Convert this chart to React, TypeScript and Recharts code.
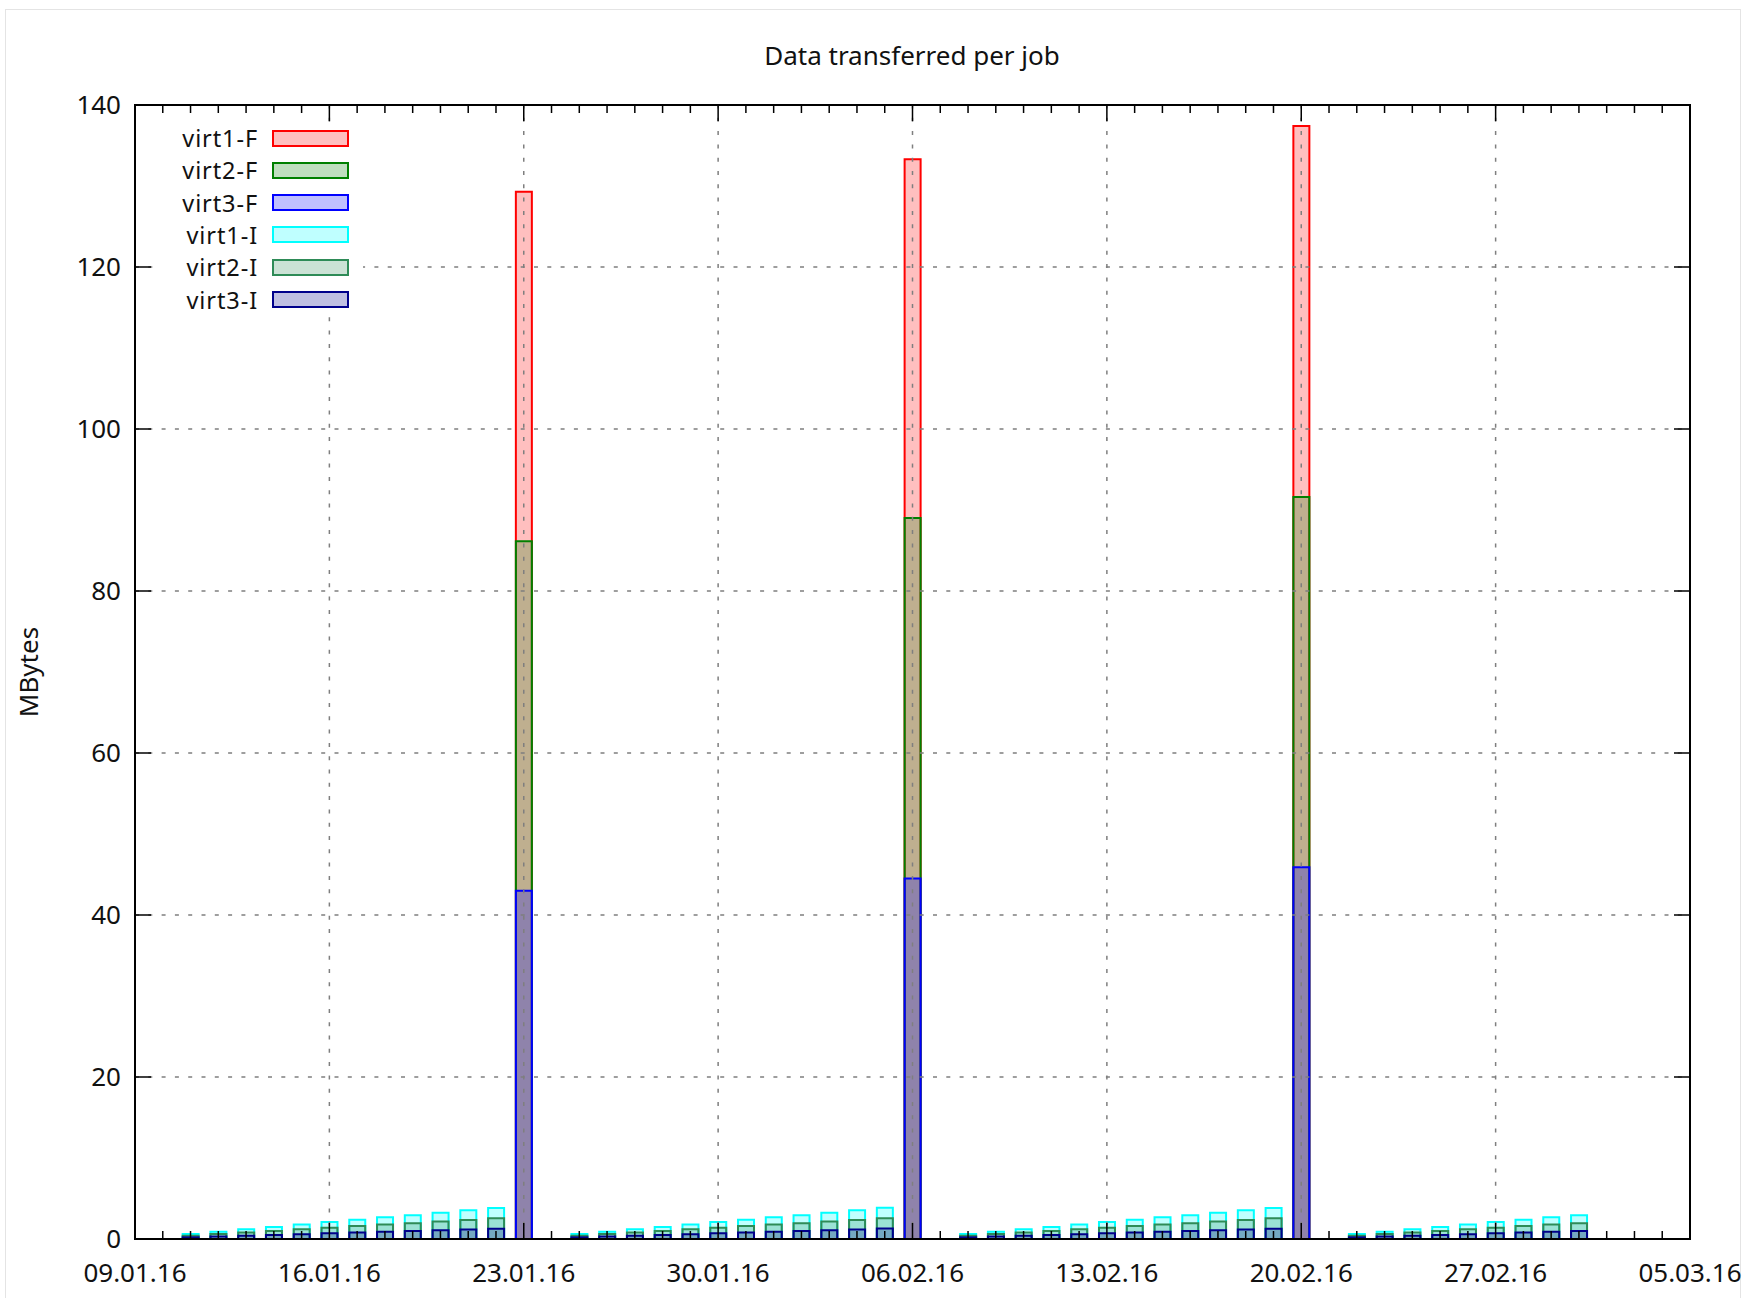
import React from "react";
import { BarChart, Bar, XAxis, YAxis, ReferenceLine } from "recharts";

const FONT = '"Noto Sans", "Open Sans", sans-serif';
const TEXT = "#111";
const GRID = "#7f7f7f";

// time range shown on the x axis and its labelled weekly ticks
const rangeStart = "09.01.16";
const rangeEnd = "05.03.16";
const weekLabels = [
  "09.01.16", "16.01.16", "23.01.16", "30.01.16", "06.02.16",
  "13.02.16", "20.02.16", "27.02.16", "05.03.16",
];
const mbTicks = [0, 20, 40, 60, 80, 100, 120, 140];
const mbGrid = [20, 40, 60, 80, 100, 120];

// one entry per backup job
const jobDates = [
  "11.01.16", "12.01.16", "13.01.16", "14.01.16", "15.01.16", "16.01.16",
  "17.01.16", "18.01.16", "19.01.16", "20.01.16", "21.01.16", "22.01.16",
  "23.01.16",
  "25.01.16", "26.01.16", "27.01.16", "28.01.16", "29.01.16", "30.01.16",
  "31.01.16", "01.02.16", "02.02.16", "03.02.16", "04.02.16", "05.02.16",
  "06.02.16",
  "08.02.16", "09.02.16", "10.02.16", "11.02.16", "12.02.16", "13.02.16",
  "14.02.16", "15.02.16", "16.02.16", "17.02.16", "18.02.16", "19.02.16",
  "20.02.16",
  "22.02.16", "23.02.16", "24.02.16", "25.02.16", "26.02.16", "27.02.16",
  "28.02.16", "29.02.16", "01.03.16",
];

// full backups (MB)
const virt1F = [
  0, 0, 0, 0, 0, 0, 0, 0, 0, 0, 0, 0, 43.15,
  0, 0, 0, 0, 0, 0, 0, 0, 0, 0, 0, 0, 44.3,
  0, 0, 0, 0, 0, 0, 0, 0, 0, 0, 0, 0, 45.8,
  0, 0, 0, 0, 0, 0, 0, 0, 0,
];
const virt2F = [
  0, 0, 0, 0, 0, 0, 0, 0, 0, 0, 0, 0, 43.15,
  0, 0, 0, 0, 0, 0, 0, 0, 0, 0, 0, 0, 44.5,
  0, 0, 0, 0, 0, 0, 0, 0, 0, 0, 0, 0, 45.7,
  0, 0, 0, 0, 0, 0, 0, 0, 0,
];
const virt3F = [
  0, 0, 0, 0, 0, 0, 0, 0, 0, 0, 0, 0, 43.0,
  0, 0, 0, 0, 0, 0, 0, 0, 0, 0, 0, 0, 44.5,
  0, 0, 0, 0, 0, 0, 0, 0, 0, 0, 0, 0, 45.9,
  0, 0, 0, 0, 0, 0, 0, 0, 0,
];

// incremental backups (MB)
const virt1I = [
  0.21, 0.3, 0.4, 0.49, 0.59, 0.7, 0.8, 0.89, 0.98, 1.08, 1.18, 1.28, 0,
  0.21, 0.3, 0.4, 0.49, 0.59, 0.7, 0.8, 0.89, 0.98, 1.08, 1.18, 1.29, 0,
  0.21, 0.3, 0.4, 0.49, 0.59, 0.7, 0.8, 0.89, 0.98, 1.08, 1.18, 1.28, 0,
  0.21, 0.3, 0.4, 0.49, 0.59, 0.7, 0.8, 0.89, 0.98,
];
const virt2I = [
  0.2, 0.3, 0.4, 0.5, 0.59, 0.7, 0.79, 0.89, 0.97, 1.08, 1.18, 1.27, 0,
  0.2, 0.3, 0.4, 0.5, 0.59, 0.7, 0.79, 0.89, 0.97, 1.08, 1.18, 1.28, 0,
  0.2, 0.3, 0.4, 0.5, 0.59, 0.7, 0.79, 0.89, 0.97, 1.08, 1.18, 1.27, 0,
  0.2, 0.3, 0.4, 0.5, 0.59, 0.7, 0.79, 0.89, 0.97,
];
const virt3I = [
  0.21, 0.31, 0.4, 0.49, 0.6, 0.7, 0.8, 0.9, 0.98, 1.09, 1.18, 1.28, 0,
  0.21, 0.31, 0.4, 0.49, 0.6, 0.7, 0.8, 0.9, 0.98, 1.09, 1.18, 1.29, 0,
  0.21, 0.31, 0.4, 0.49, 0.6, 0.7, 0.8, 0.9, 0.98, 1.09, 1.18, 1.28, 0,
  0.21, 0.31, 0.4, 0.49, 0.6, 0.7, 0.8, 0.9, 0.98,
];

const DAY_MS = 86400000;
const parseDate = (s: string) => {
  const [d, m, y] = s.split(".").map(Number);
  return Date.UTC(2000 + y, m - 1, d);
};
const t0 = parseDate(rangeStart);
const toDay = (s: string) => Math.round((parseDate(s) - t0) / DAY_MS);
const lastDay = toDay(rangeEnd);
const allDays = Array.from({ length: lastDay + 1 }, (_, i) => i);
const weekDays = weekLabels.map(toDay);
const gridDays = weekDays.slice(1, -1);

// gnuplot-style overlapping bars: each series is drawn from zero up to its
// cumulative height, with a transparent fill so the overlaps mix
const orNull = (v: number) => (v > 0 ? +v.toFixed(3) : null);
const rows = jobDates.map((d, i) => ({
  day: toDay(d),
  f1: orNull(virt1F[i] + virt2F[i] + virt3F[i]),
  f2: orNull(virt2F[i] + virt3F[i]),
  f3: orNull(virt3F[i]),
  i1: orNull(virt1I[i] + virt2I[i] + virt3I[i]),
  i2: orNull(virt2I[i] + virt3I[i]),
  i3: orNull(virt3I[i]),
}));

const series = [
  { key: "f1", name: "virt1-F", color: "#ff0000", axis: "bottom" },
  { key: "f2", name: "virt2-F", color: "#008000", axis: "top" },
  { key: "f3", name: "virt3-F", color: "#0000ff", axis: "h3" },
  { key: "i1", name: "virt1-I", color: "#00ffff", axis: "h4" },
  { key: "i2", name: "virt2-I", color: "#2e8b57", axis: "h5" },
  { key: "i3", name: "virt3-I", color: "#00008b", axis: "h6" },
];

const tint = (hex: string) => {
  const n = parseInt(hex.slice(1), 16);
  return `rgba(${(n >> 16) & 255}, ${(n >> 8) & 255}, ${n & 255}, 0.25)`;
};

const W = 1761;
const H = 1298;
const FS = 26;
const KEY_FS = 23.5;

function BottomTick(props: any) {
  const { x, y, payload } = props;
  const idx = weekDays.indexOf(payload.value);
  return (
    <g>
      <line x1={x} x2={x} y1={y} y2={y - (idx >= 0 ? 16 : 8)} stroke="#000" strokeWidth={1.5} />
      {idx >= 0 && (
        <text x={x} y={y + 43} textAnchor="middle" fontFamily={FONT} fontSize={FS} fill={TEXT}>
          {weekLabels[idx]}
        </text>
      )}
    </g>
  );
}

function TopTick(props: any) {
  const { x, y, payload } = props;
  const major = weekDays.includes(payload.value);
  return <line x1={x} x2={x} y1={y} y2={y + (major ? 16 : 8)} stroke="#000" strokeWidth={1.5} />;
}

function LeftTick(props: any) {
  const { x, y, payload } = props;
  return (
    <g>
      <line x1={x} x2={x + 16} y1={y} y2={y} stroke="#000" strokeWidth={1.5} />
      <text x={x - 14} y={y} dy="0.36em" textAnchor="end" fontFamily={FONT} fontSize={FS} fill={TEXT}>
        {payload.value}
      </text>
    </g>
  );
}

function RightTick(props: any) {
  const { x, y } = props;
  return <line x1={x} x2={x - 16} y1={y} y2={y} stroke="#000" strokeWidth={1.5} />;
}

const frame = { stroke: "#000", strokeWidth: 2, strokeLinecap: "square" as const };

// opaque key box in the upper left corner of the plot
function KeyBox() {
  return (
    <div
      style={{
        position: "absolute",
        left: 153,
        top: 123,
        width: 210,
        height: 193,
        background: "#fff",
        fontFamily: FONT,
        fontSize: KEY_FS,
        letterSpacing: 0.9,
        color: TEXT,
      }}
    >
      {series.map((s, i) => (
        <div
          key={s.key}
          style={{ position: "absolute", left: 0, top: 15 + i * 32.3 - 13, height: 26, width: 210 }}
        >
          <div style={{ position: "absolute", right: 105, top: 0, lineHeight: "26px", whiteSpace: "nowrap" }}>
            {s.name}
          </div>
          <div
            style={{
              position: "absolute",
              left: 119,
              top: 4.5,
              width: 77,
              height: 17,
              boxSizing: "border-box",
              border: `2px solid ${s.color}`,
              background: tint(s.color),
            }}
          />
        </div>
      ))}
    </div>
  );
}

export default function App() {
  return (
    <div style={{ position: "absolute", left: 0, top: 0, width: W, height: H, background: "#fff" }}>
      <div
        style={{
          position: "absolute",
          left: 5,
          top: 9,
          width: 1736,
          height: H,
          border: "1px solid #e4e4e4",
          boxSizing: "border-box",
        }}
      />
      <BarChart
        width={W}
        height={H}
        data={rows}
        margin={{ top: 95, right: 61, bottom: 19, left: 75 }}
        barGap={0}
      >
        {series.map((s) => (
          <Bar
            key={s.key}
            xAxisId={s.axis}
            dataKey={s.key}
            name={s.name}
            barSize={16}
            fill={tint(s.color)}
            stroke={s.color}
            strokeWidth={2}
            isAnimationActive={false}
          />
        ))}

        {gridDays.map((d) => (
          <ReferenceLine
            key={`gx${d}`}
            xAxisId="bottom"
            x={d}
            stroke={GRID}
            strokeWidth={1.5}
            strokeDasharray="4 9.3"
          />
        ))}
        {mbGrid.map((v) => (
          <ReferenceLine
            key={`gy${v}`}
            xAxisId="bottom"
            y={v}
            stroke={GRID}
            strokeWidth={1.5}
            strokeDasharray="4 9.3"
          />
        ))}

        <XAxis
          xAxisId="bottom"
          type="number"
          dataKey="day"
          domain={[0, lastDay]}
          allowDataOverflow
          ticks={allDays}
          interval={0}
          height={40}
          tickSize={0}
          tickMargin={0}
          tickLine={false}
          axisLine={frame}
          tick={BottomTick}
        />
        <XAxis
          xAxisId="top"
          orientation="top"
          type="number"
          dataKey="day"
          domain={[0, lastDay]}
          allowDataOverflow
          ticks={allDays}
          interval={0}
          height={10}
          tickSize={0}
          tickMargin={0}
          tickLine={false}
          axisLine={frame}
          tick={TopTick}
        />
        {["h3", "h4", "h5", "h6"].map((id) => (
          <XAxis
            key={id}
            xAxisId={id}
            type="number"
            dataKey="day"
            domain={[0, lastDay]}
            allowDataOverflow
            hide
          />
        ))}
        <YAxis
          type="number"
          domain={[0, 140]}
          allowDataOverflow
          ticks={mbTicks}
          interval={0}
          width={60}
          tickSize={0}
          tickMargin={0}
          tickLine={false}
          axisLine={frame}
          tick={LeftTick}
        />
        <YAxis
          yAxisId="right"
          orientation="right"
          type="number"
          domain={[0, 140]}
          allowDataOverflow
          ticks={mbTicks}
          interval={0}
          width={10}
          tickSize={0}
          tickMargin={0}
          tickLine={false}
          axisLine={frame}
          tick={RightTick}
        />
      </BarChart>

      <div
        style={{
          position: "absolute",
          left: 912,
          top: 55,
          transform: "translate(-50%, -50%)",
          fontFamily: FONT,
          fontSize: FS,
          color: TEXT,
          whiteSpace: "nowrap",
        }}
      >
        Data transferred per job
      </div>
      <div
        style={{
          position: "absolute",
          left: 28,
          top: 672,
          transform: "translate(-50%, -50%) rotate(-90deg)",
          fontFamily: FONT,
          fontSize: FS,
          color: TEXT,
          whiteSpace: "nowrap",
        }}
      >
        MBytes
      </div>
      <KeyBox />
    </div>
  );
}
